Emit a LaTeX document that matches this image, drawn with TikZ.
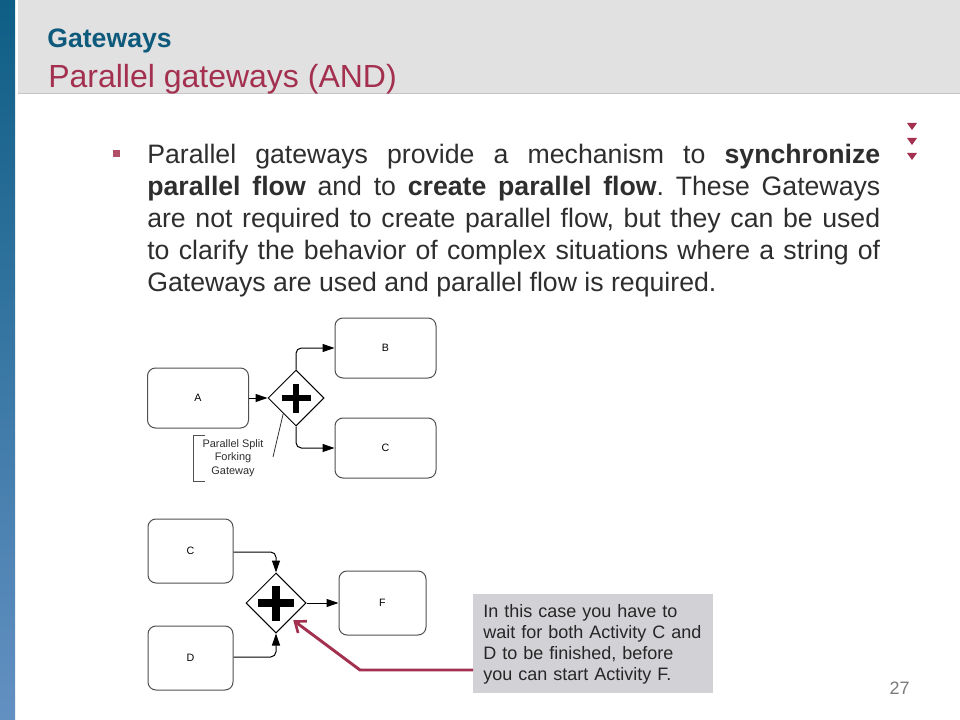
\documentclass[tikz,border=0pt]{standalone}
\usepackage{fontspec}
\setmainfont{Liberation Sans}
\usetikzlibrary{shapes.geometric,arrows.meta,calc}
\definecolor{titleblue}{HTML}{0E5A7C}
\definecolor{titlered}{HTML}{A3304F}
\definecolor{bodytext}{HTML}{2E2E2E}
\definecolor{headgray}{HTML}{E1E1E1}
\definecolor{notegray}{HTML}{D2D2D6}
\definecolor{boxline}{HTML}{505050}
\definecolor{barTop}{HTML}{0E5E86}
\definecolor{barBot}{HTML}{6390C2}
\definecolor{pagegray}{HTML}{7A7A7A}
\tikzset{
  activity/.style={draw=boxline, line width=0.75pt, rounded corners=6pt, fill=white, inner sep=0pt, font=\fontsize{8}{9}\selectfont},
  gateway/.style={draw=black, line width=0.75pt, diamond, aspect=1, inner sep=0pt, fill=white},
  flow/.style={draw=black, line width=0.75pt, rounded corners=4pt, -{Triangle[length=9pt,width=6pt]}},
  plusbar/.style={line width=5pt, line cap=butt},
  redarrow/.style={draw=titlered, line width=2.2pt, -{Straight Barb[length=7pt,width=11pt,line width=2pt]}},
}
\begin{document}
\begin{tikzpicture}[x=0.75pt,y=-0.75pt]
\useasboundingbox (0,0) rectangle (960,720);
\fill[white] (0,0) rectangle (960,720);
% left bar
\shade[top color=barTop, bottom color=barBot] (0,0) rectangle (15,720);
% header band
\fill[headgray] (18,0) rectangle (960,94);
\draw[color=black!22, line width=0.75pt] (18,94) -- (960,94);
\node[anchor=base west, inner sep=0pt, font=\fontsize{20}{24}\selectfont\bfseries, text=titleblue] (t1) at (47,48) {Gateways};
\node[anchor=base west, inner sep=0pt, font=\fontsize{24}{28}\selectfont, text=titlered] (t2) at (48,88) {Parallel gateways (AND)};
% triangles
\foreach \ty in {123,138,153}{
  \fill[titlered] (907,\ty) -- (917,\ty) -- (912,\ty+7) -- cycle;
}
% bullet
\fill[titlered!85!white] (113,150) rectangle (120,157);
\node[anchor=north west, inner sep=0pt, text width=549.75pt, align=justify, text=bodytext,
  font=\fontsize{20}{24}\selectfont\frenchspacing] (body) at (147,140.6)
  {\strut Parallel gateways provide a mechanism to \textbf{synchronize}\linebreak
   \textbf{parallel flow} and to \textbf{create parallel flow}. These Gateways\linebreak
   are not required to create parallel flow, but they can be used\linebreak
   to clarify the behavior of complex situations where a string of\linebreak
   Gateways are used and parallel flow is required.};
% ---- top diagram
\node[activity, minimum width=75.75pt, minimum height=45pt] (A) at (198,398) {A};
\node[activity, minimum width=75.75pt, minimum height=45pt] (B) at (385.5,348) {B};
\node[activity, minimum width=75.75pt, minimum height=45pt] (C1) at (385.5,448) {C};
\node[gateway, minimum size=42pt] (g1) at (296,398) {};
\draw[plusbar] ($(g1.center)+(-14.5,0)$) -- ($(g1.center)+(14.5,0)$);
\draw[plusbar] ($(g1.center)+(0,-14.5)$) -- ($(g1.center)+(0,14.5)$);
\draw[flow] (A.east) -- (g1.west);
\draw[flow] (g1.north) |- (B.west);
\draw[flow] (g1.south) |- (C1.west);
% annotation
\coordinate (brT) at (205,435);
\coordinate (brB) at (205,481);
\draw[draw=boxline, line width=0.6pt] (brT) -- (193,435) -- (193,481) -- (brB);
\node[align=center, inner sep=0pt, font=\fontsize{8.2}{10.1}\selectfont, text=bodytext] (ann) at (233,458) {Parallel Split\\Forking\\Gateway};
\coordinate (annEnd) at (273,457);
\draw[line width=0.6pt, draw=black!80] (annEnd) -- ($(g1.west)!0.55!(g1.south)$);
% ---- bottom diagram
\node[activity, minimum width=63.75pt, minimum height=48pt] (C2) at (190.5,551) {C};
\node[activity, minimum width=63.75pt, minimum height=48pt] (D) at (190.5,658) {D};
\node[activity, minimum width=65.25pt, minimum height=48pt] (F) at (382.5,603) {F};
\node[gateway, minimum size=45pt] (g2) at (276,603) {};
\draw[plusbar, line width=5.5pt] ($(g2.center)+(-18,0)$) -- ($(g2.center)+(18,0)$);
\draw[plusbar, line width=5.5pt] ($(g2.center)+(0,-17.5)$) -- ($(g2.center)+(0,17.5)$);
\draw[flow] (C2.east |- 0,552) -| (g2.north);
\draw[flow] (D.east |- 0,657) -| (g2.south);
\draw[flow] (g2.east) -- (F.west);
% note
\node[fill=notegray, minimum width=180pt, minimum height=74.25pt, inner sep=0pt, anchor=north west] (note) at (473,594) {};
\node[anchor=north west, inner sep=0pt, text width=178pt, align=left, text=black!85,
  font=\fontsize{13.5}{15.75}\selectfont] (notetext) at (483,602.3)
  {\strut In this case you have to\\wait for both Activity C and\\D to be finished, before\\you can start Activity F.};
\coordinate (bend) at (360,670);
\draw[redarrow] (note.west |- bend) -- (bend) -- ($(g2.south east)+(2,2)$);
% page number
\node[anchor=base east, inner sep=0pt, font=\fontsize{13.5}{16}\selectfont, text=pagegray] (pg) at (910,694) {27};
\end{tikzpicture}
\end{document}
